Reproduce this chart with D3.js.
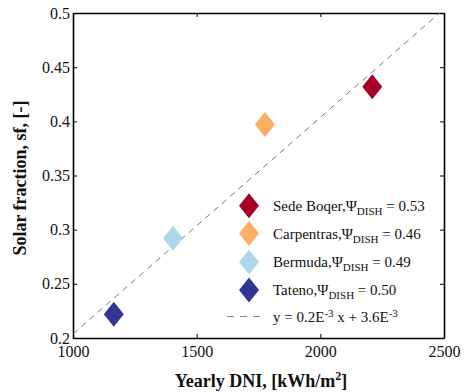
<!DOCTYPE html>
<html lang="en">
<head>
<meta charset="UTF-8">
<title>Solar fraction vs DNI</title>
<script src="https://d3js.org/d3.v7.min.js"></script>
<style>
    body { margin: 0; background: #fff; }
    svg text { font-family: "Liberation Serif", "Times New Roman", serif; fill: #111; }
    .tick text { font-size: 16px; }
    .axlabel { font-size: 18px; font-weight: bold; }
    .leg { font-size: 15px; }
</style>
</head>
<body>
<svg id="chart" width="469" height="392"></svg>
<script>
    // data
    let sites = ["Sede Boqer", "Carpentras", "Bermuda", "Tateno"];
    let psi = ["0.53", "0.46", "0.49", "0.50"];
    let dni = [2210, 1776, 1404, 1165];
    let sf = [0.432, 0.397, 0.292, 0.222];
    let colors = ["#a50026", "#fdae61", "#abd9e9", "#313695"];
    let fitX = [1000, 2500];
    let fitY = [0.2036, 0.5036];
    let xTicks = [1000, 1500, 2000, 2500];
    let yTicks = [0.2, 0.25, 0.3, 0.35, 0.4, 0.45, 0.5];

    let svg = d3.select("#chart");
    let m = {left: 73, top: 13, right: 444, bottom: 338};

    let x = d3.scaleLinear().domain([1000, 2500]).range([m.left, m.right]);
    let y = d3.scaleLinear().domain([0.2, 0.5]).range([m.bottom, m.top]);

    svg.append("clipPath").attr("id", "clip")
        .append("rect")
        .attr("x", m.left).attr("y", m.top)
        .attr("width", m.right - m.left).attr("height", m.bottom - m.top);

    // axes, ticks pointing inward
    let fmt = d => d3.format("")(d);
    svg.append("g").attr("transform", "translate(0," + m.bottom + ")")
        .call(d3.axisBottom(x).tickValues(xTicks).tickSizeInner(-4).tickSizeOuter(0).tickPadding(8).tickFormat(fmt));
    svg.append("g").attr("transform", "translate(0," + m.top + ")")
        .call(d3.axisTop(x).tickValues(xTicks).tickSizeInner(-4).tickSizeOuter(0).tickFormat(""));
    svg.append("g").attr("transform", "translate(" + m.left + ",0)")
        .call(d3.axisLeft(y).tickValues(yTicks).tickSizeInner(-4).tickSizeOuter(0).tickPadding(3).tickFormat(fmt));
    svg.append("g").attr("transform", "translate(" + m.right + ",0)")
        .call(d3.axisRight(y).tickValues(yTicks).tickSizeInner(-4).tickSizeOuter(0).tickFormat(""));
    svg.selectAll(".domain").attr("stroke", "#000").attr("stroke-width", 1.6);
    svg.selectAll(".tick line").attr("stroke", "#000");

    // fit line
    svg.append("line")
        .attr("clip-path", "url(#clip)")
        .attr("x1", x(fitX[0])).attr("y1", y(fitY[0]))
        .attr("x2", x(fitX[1])).attr("y2", y(fitY[1]))
        .attr("stroke", "#777").attr("stroke-width", 1)
        .attr("stroke-dasharray", "6,5");

    let diamond = "M0,-12.5L10,0L0,12.5L-10,0Z";

    svg.selectAll("path.pt")
        .data(sites)
        .enter()
        .append("path")
        .attr("class", "pt")
        .attr("d", diamond)
        .attr("transform", (d, i) => "translate(" + x(dni[i]) + "," + y(sf[i]) + ")")
        .attr("fill", (d, i) => colors[i]);

    // legend
    let lg = svg.append("g");
    let rowY = [205.7, 233.5, 262, 290];
    sites.forEach(function (s, i) {
        lg.append("path").attr("d", diamond)
            .attr("transform", "translate(249," + rowY[i] + ")")
            .attr("fill", colors[i]);
        let t = lg.append("text").attr("class", "leg")
            .attr("x", 273).attr("y", rowY[i] + 5);
        t.append("tspan").text(s + ",\u03A8");
        t.append("tspan").attr("dy", 4).attr("font-size", "11px").text("DISH");
        t.append("tspan").attr("dy", -4).text(" = " + psi[i]);
    });
    lg.append("line")
        .attr("x1", 227).attr("x2", 265)
        .attr("y1", 316.5).attr("y2", 316.5)
        .attr("stroke", "#888").attr("stroke-width", 1)
        .attr("stroke-dasharray", "7,6");
    let ft = lg.append("text").attr("class", "leg").attr("x", 273).attr("y", 322);
    ft.append("tspan").text("y = 0.2E");
    ft.append("tspan").attr("dy", -5).attr("font-size", "11px").text("-3");
    ft.append("tspan").attr("dy", 5).text(" x + 3.6E");
    ft.append("tspan").attr("dy", -5).attr("font-size", "11px").text("-3");

    // axis labels
    svg.append("text").attr("class", "axlabel")
        .attr("x", 261).attr("y", 387).attr("text-anchor", "middle")
        .text("Yearly DNI, [kWh/m")
        .append("tspan").attr("dy", -7).attr("font-size", "12px").text("2")
        .select(function () { return this.parentNode; })
        .append("tspan").attr("dy", 7).text("]");
    svg.append("text").attr("class", "axlabel")
        .attr("transform", "translate(26,178) rotate(-90)")
        .attr("text-anchor", "middle")
        .text("Solar fraction, sf, [-]");
</script>
</body>
</html>
